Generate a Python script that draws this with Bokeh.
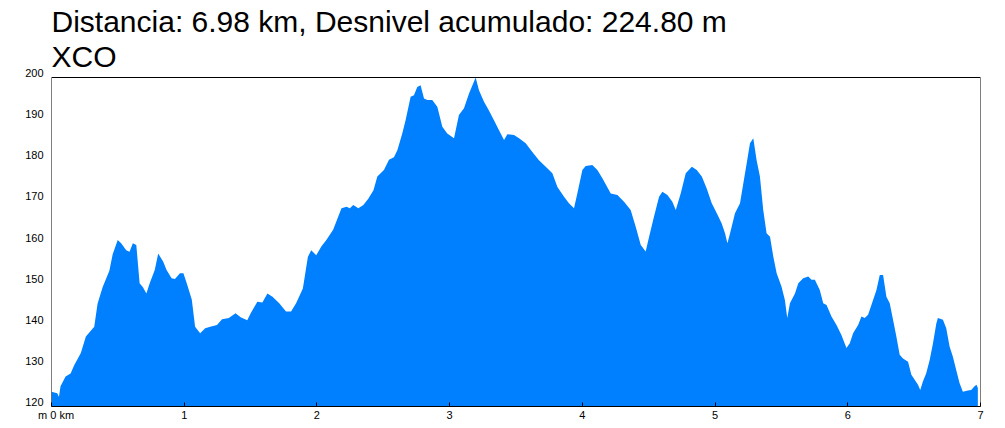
from bokeh.plotting import figure
from bokeh.models import FixedTicker, Range1d, ColumnDataSource, LinearAxis, Title, BoxAnnotation
from bokeh.embed import file_html
from bokeh.resources import INLINE

TITLE_1 = "Distancia: 6.98 km, Desnivel acumulado: 224.80 m"
TITLE_2 = "XCO"

X_TICKS = [0, 1, 2, 3, 4, 5, 6, 7]
X_FIRST_LABEL = "\u00a0\u00a0\u00a0m 0 km"
Y_TICKS = [120, 130, 140, 150, 160, 170, 180, 190, 200]
X_MIN, X_MAX = 0, 7
Y_MIN, Y_MAX = 120, 200

distance_km = [
    0.000, 0.043, 0.056, 0.068, 0.106, 0.144, 0.170, 0.221, 0.259, 0.322,
    0.347, 0.385, 0.436, 0.461, 0.499, 0.525, 0.563, 0.588, 0.613, 0.639,
    0.664, 0.689, 0.715, 0.740, 0.778, 0.804, 0.842, 0.867, 0.905, 0.930,
    0.968, 0.994, 1.019, 1.057, 1.082, 1.120, 1.158, 1.196, 1.247, 1.285,
    1.336, 1.387, 1.425, 1.475, 1.501, 1.551, 1.589, 1.627, 1.665, 1.716,
    1.767, 1.805, 1.843, 1.894, 1.932, 1.957, 1.995, 2.033, 2.071, 2.122,
    2.185, 2.223, 2.248, 2.274, 2.312, 2.350, 2.388, 2.426,
    2.455, 2.505, 2.543, 2.580, 2.606, 2.643, 2.668, 2.706, 2.731, 2.756,
    2.781, 2.807, 2.832, 2.869, 2.907, 2.945, 2.982, 3.033, 3.070, 3.108,
    3.146, 3.196, 3.221, 3.259, 3.296, 3.334, 3.372, 3.410, 3.435, 3.485,
    3.523, 3.573, 3.623, 3.673, 3.724, 3.774, 3.812, 3.862, 3.899, 3.937,
    3.962, 4.000, 4.025, 4.075, 4.113, 4.151, 4.214, 4.264, 4.314, 4.364,
    4.402, 4.440, 4.477, 4.503, 4.540, 4.578, 4.603, 4.641, 4.678, 4.704,
    4.741, 4.779,
    4.825, 4.862, 4.900, 4.937, 4.975, 5.013, 5.050, 5.075, 5.093, 5.113,
    5.150, 5.188, 5.213, 5.238, 5.263, 5.288, 5.313, 5.338, 5.363, 5.388,
    5.414, 5.439, 5.464, 5.501, 5.526, 5.544, 5.564, 5.602, 5.627, 5.664,
    5.702, 5.727, 5.752, 5.789, 5.815, 5.840, 5.877, 5.915, 5.952, 5.990,
    6.015, 6.040, 6.078, 6.103, 6.128, 6.153, 6.178, 6.216, 6.241, 6.266,
    6.291, 6.316, 6.341, 6.366, 6.391, 6.416, 6.454, 6.479, 6.504, 6.529,
    6.546, 6.566, 6.591, 6.617, 6.642, 6.667, 6.679, 6.717, 6.742, 6.767,
    6.792, 6.817, 6.842, 6.867, 6.905, 6.930, 6.955, 6.970, 6.980,
]

elevation_m = [
    123.6, 123.2, 122.4, 124.9, 127.3, 128.0, 130.0, 133.0, 137.0, 139.4,
    145.0, 149.0, 153.0, 157.0, 160.5, 159.7, 158.0, 157.6, 159.7, 159.3,
    150.0, 149.0, 147.5, 150.0, 153.2, 157.2, 155.2, 153.2, 151.2, 151.0,
    152.4, 152.4, 150.0, 146.0, 139.4, 137.8, 139.0, 139.4, 139.8, 141.2,
    141.5, 142.7, 141.7, 141.0, 142.7, 145.5, 145.3, 147.5, 146.7, 145.1,
    143.1, 143.1, 145.1, 148.7, 156.4, 158.0, 156.8, 158.9, 160.5, 163.0,
    168.2, 168.6, 168.2, 169.0, 168.2, 169.0, 170.6, 172.6,
    175.9, 177.5, 180.0, 180.6, 182.3, 186.4, 189.6, 195.3, 195.7, 197.7,
    198.1, 194.9, 194.5, 194.5, 192.9, 188.0, 186.4, 185.2, 190.9, 192.5,
    196.1, 200.0, 196.9, 194.1, 192.0, 189.6, 187.2, 184.8, 186.2, 186.0,
    185.2, 184.0, 181.9, 179.9, 178.3, 176.7, 173.4, 171.0, 169.4, 168.2,
    171.8, 177.5, 178.5, 178.7, 177.5, 175.5, 171.8, 171.4, 169.8, 167.8,
    163.7, 159.3, 157.7, 161.3, 166.2, 171.0, 172.2, 171.4, 169.8, 167.8,
    171.8, 176.7,
    178.3, 177.5, 175.9, 173.0, 169.4, 167.0, 164.5, 162.1, 159.7, 162.1,
    167.0, 169.4, 174.3, 179.1, 184.0, 185.2, 179.9, 175.9, 167.8, 162.1,
    161.3, 156.4, 152.4, 149.1, 145.9, 141.5, 145.1, 147.5, 150.0, 151.2,
    151.6, 150.8, 150.8, 148.3, 145.1, 144.7, 141.9, 139.8, 137.4, 134.2,
    135.4, 137.8, 139.8, 141.9, 141.5, 142.3, 144.7, 148.3, 152.0, 152.0,
    146.7, 145.1, 141.1, 137.0, 132.6, 131.7, 130.9, 127.7, 126.5, 125.3,
    124.0, 126.1, 128.1, 131.3, 135.4, 140.2, 141.5, 141.1, 139.0, 134.6,
    132.1, 128.9, 125.7, 123.6, 123.9, 124.0, 124.9, 125.3, 124.5,
]

FONT = "Liberation Sans"

PX_PER_M = 329 / (Y_MAX - Y_MIN)
EXTRA_PX = 5
LABEL_LIFT_PX = 4.5
top_val = Y_MAX + EXTRA_PX / PX_PER_M
lift = LABEL_LIFT_PX / PX_PER_M

src = ColumnDataSource(dict(d=distance_km, e=elevation_m))

p = figure(
    width=1005, height=428,
    x_range=Range1d(X_MIN, X_MAX), y_range=Range1d(Y_MIN, top_val),
    output_backend="svg", toolbar_location=None, tools="",
    y_axis_location=None,
    min_border_left=51, min_border_right=25, min_border_top=72, min_border_bottom=22,
)
p.frame_width = 929
p.frame_height = 329 + EXTRA_PX

p.varea(x="d", y1=Y_MIN, y2="e", source=src, fill_color="#0080ff", fill_alpha=1.0)

p.xgrid.visible = False
p.ygrid.visible = False
p.outline_line_color = None
p.background_fill_color = "white"
p.border_fill_color = "white"

p.add_layout(BoxAnnotation(left=X_MIN, right=X_MAX, bottom=Y_MIN, top=Y_MAX,
                           fill_alpha=0, line_color="black", line_alpha=1.0, line_width=1))

xa = p.xaxis[0]
xa.ticker = FixedTicker(ticks=X_TICKS)
xa.minor_tick_line_color = None
xa.major_tick_in = 4
xa.major_tick_out = 0
xa.axis_line_color = "black"
xa.major_label_text_font = FONT
xa.major_label_text_font_size = "11px"
xa.major_label_text_color = "black"
xa.major_label_standoff = 2
xa.major_label_overrides = {0: X_FIRST_LABEL}

p.extra_y_ranges = {"labels": Range1d(Y_MIN - lift, top_val - lift)}
ya = LinearAxis(y_range_name="labels")
ya.ticker = FixedTicker(ticks=Y_TICKS)
ya.minor_tick_line_color = None
ya.major_tick_line_color = None
ya.axis_line_color = None
ya.major_label_text_font = FONT
ya.major_label_text_font_size = "11px"
ya.major_label_text_color = "black"
ya.major_label_standoff = 2
p.add_layout(ya, "left")

p.title.text = TITLE_1
p.title.align = "left"
p.title.text_font = FONT
p.title.text_font_size = "30px"
p.title.text_font_style = "normal"
p.title.text_color = "black"
p.title.standoff = 0
p.add_layout(Title(text=TITLE_2, align="left", text_font=FONT, text_font_size="30px",
                   text_font_style="normal", text_color="black", standoff=0), "above")

open("out.html", "w").write(file_html(p, INLINE))
